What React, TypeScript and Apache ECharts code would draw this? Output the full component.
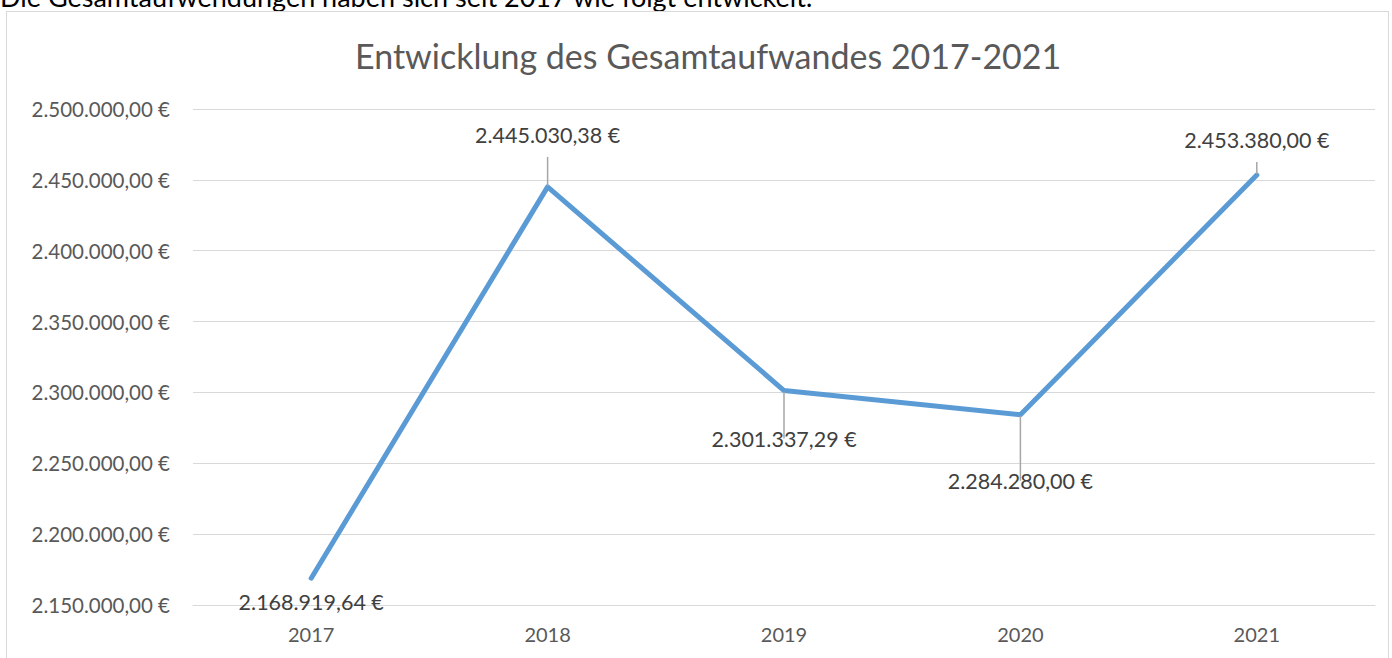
import React, { useEffect, useRef } from "react";
import * as echarts from "echarts";

const years = ["2017", "2018", "2019", "2020", "2021"];
const totals = [2168919.64, 2445030.38, 2301337.29, 2284280.0, 2453380.0];
const yMin = 2150000;
const yMax = 2500000;
const yStep = 50000;
const titleText = "Entwicklung des Gesamtaufwandes 2017-2021";
const introText = "Die Gesamtaufwendungen haben sich seit 2017 wie folgt entwickelt:";

const labelPlacement: { pos: "top" | "bottom"; dist: number; line: boolean }[] = [
  { pos: "bottom", dist: 12, line: false },
  { pos: "top", dist: 40, line: true },
  { pos: "bottom", dist: 36, line: true },
  { pos: "bottom", dist: 54, line: true },
  { pos: "top", dist: 23, line: true },
];

function fmtEuro(v: number): string {
  const fixed = Math.abs(v).toFixed(2);
  const [intPart, dec] = fixed.split(".");
  const withDots = intPart.replace(/\B(?=(\d{3})+(?!\d))/g, ".");
  return (v < 0 ? "-" : "") + withDots + "," + dec + " €";
}

const FONT = "Lato, 'Open Sans', sans-serif";
const GREY = "#595959";

export default function App() {
  const ref = useRef<HTMLDivElement>(null);
  useEffect(() => {
    if (!ref.current) return;
    const chart = echarts.init(ref.current, null, { renderer: "svg" });
    chart.setOption({
      animation: false,
      title: {
        text: titleText,
        left: 343,
        top: 21,
        textStyle: { color: GREY, fontSize: 34, fontWeight: "normal", fontFamily: FONT },
      },
      grid: { left: 186, right: 13, top: 97, bottom: 67, containLabel: false },
      xAxis: {
        type: "category",
        data: years,
        boundaryGap: true,
        axisLine: { show: true, lineStyle: { color: "#d9d9d9", width: 1 } },
        axisTick: { show: false },
        axisLabel: { color: GREY, fontSize: 20, fontFamily: FONT, margin: 19 },
      },
      yAxis: {
        type: "value",
        min: yMin,
        max: yMax,
        interval: yStep,
        axisLine: { show: false },
        axisTick: { show: false },
        splitLine: { lineStyle: { color: "#d9d9d9", width: 1 } },
        axisLabel: {
          color: GREY,
          fontSize: 20.5,
          fontFamily: FONT,
          margin: 23,
          formatter: (v: number) => fmtEuro(v),
        },
      },
      series: [
        {
          type: "line",
          data: totals.map((v, i) => ({
            value: v,
            label: { position: labelPlacement[i].pos, distance: labelPlacement[i].dist },
            labelLine: { show: labelPlacement[i].line },
          })),
          symbol: "circle",
          symbolSize: 2,
          itemStyle: { color: "#5b9bd5" },
          lineStyle: { color: "#5b9bd5", width: 5, cap: "round", join: "round" },
          label: {
            show: true,
            color: "#404040",
            fontSize: 21.5,
            fontFamily: FONT,
            formatter: (p: any) => fmtEuro(p.value),
          },
          labelLine: {
            show: true,
            lineStyle: { color: "#a6a6a6", width: 1.5 },
          },
        },
      ],
    });
    return () => chart.dispose();
  }, []);

  return (
    <div
      style={{
        position: "fixed",
        left: 0,
        top: 0,
        width: 1392,
        height: 658,
        overflow: "hidden",
        background: "#fff",
      }}
    >
      <div
        style={{
          position: "absolute",
          left: 0,
          top: -17,
          fontFamily: FONT,
          fontSize: 27,
          lineHeight: "27px",
          color: "#000",
          whiteSpace: "nowrap",
        }}
      >
        {introText}
      </div>
      <div
        style={{
          position: "absolute",
          left: 6,
          top: 11,
          width: 1381,
          height: 660,
          border: "1px solid #d9d9d9",
        }}
      >
        <div ref={ref} style={{ width: 1381, height: 660 }} />
      </div>
    </div>
  );
}
